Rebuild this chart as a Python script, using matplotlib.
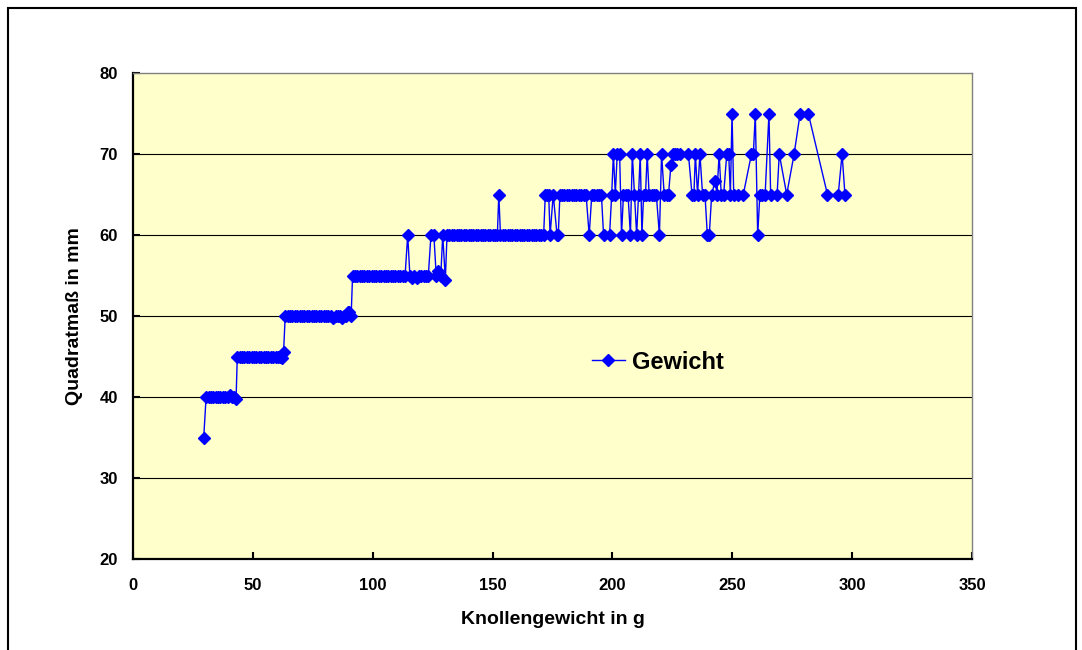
import matplotlib
matplotlib.use('Agg')
import matplotlib.pyplot as plt
from matplotlib.patches import Rectangle

# Knollengewicht (g) und Quadratmaß (mm), nach Gewicht sortiert
weight_g = [
    29.5,
    30.5, 31.5, 32.5, 33.5, 34.5, 35.5, 36.5, 37.5, 38.5, 39.5, 40.5, 41.5, 42.3, 43.0,
    43.5, 44.5, 45.5, 46.5, 47.5, 48.5, 49.5, 50.5, 51.5, 52.5, 53.5, 54.5, 55.5,
    56.5, 57.5, 58.5, 59.5, 60.5, 61.5, 62.2, 62.8,
    63.5, 64.5, 65.5, 66.5, 67.5, 68.5, 69.5, 70.5, 71.5, 72.5, 73.5, 74.5, 75.5,
    76.5, 77.5, 78.5, 79.5, 80.5, 81.5, 82.5, 83.5, 84.5, 85.5, 86.4, 87.2, 88.0,
    88.8, 89.5, 90.3, 91.0,
    91.6, 92.5, 93.5, 94.5, 95.5, 96.5, 97.5, 98.5, 99.5, 100.5, 101.5, 102.5,
    103.5, 104.5, 105.5, 106.5, 107.5, 108.5, 109.5, 110.5, 111.5, 112.5, 113.5,
    114.6, 115.5, 116.5, 117.4, 118.3, 119.2, 120.2, 121.2, 122.2, 123.2, 124.3,
    125.5, 126.5, 127.4, 128.4, 129.2, 130.3,
    131.0, 132.0, 133.0, 134.0, 135.0, 136.0, 137.0, 138.0, 139.0, 140.0, 141.0,
    142.0, 143.0, 144.0, 145.0, 146.0, 147.0, 148.0, 149.0, 150.0, 151.0, 152.0,
    152.6, 153.3, 154.3, 155.3, 156.3, 157.3, 158.3, 159.3, 160.3, 161.3, 162.3,
    163.3, 164.3, 165.3, 166.3, 167.3, 168.3, 169.3, 170.3, 171.3,
    172.0, 172.8, 173.4, 174.0, 175.3, 176.9, 177.4, 178.1, 179.0, 180.0, 181.0,
    182.0, 183.0, 184.0, 185.0, 186.0, 187.0, 188.0, 189.0, 190.3, 191.4, 192.4,
    193.4, 194.4, 195.4, 196.3, 198.8,
    199.7, 200.4, 201.2, 202.0, 203.0, 203.8, 204.6, 205.5, 206.5, 207.5, 208.3,
    209.2, 210.1, 210.9, 211.6, 212.3, 213.0, 213.8, 214.5, 215.3, 216.3, 217.3,
    218.3, 219.6, 220.5, 221.6, 222.6, 223.4, 224.4, 225.3, 226.2, 227.1, 228.2,
    231.7, 233.2, 234.0, 234.6, 235.5, 236.5, 237.6, 238.6, 239.6, 240.4, 241.4,
    242.8, 243.6, 244.5, 245.4, 246.4, 247.7, 248.5, 249.2, 249.9, 250.6, 252.5,
    254.6, 258.0, 258.8, 259.6, 260.6, 261.5, 262.6, 263.7, 265.3, 266.0, 268.7,
    269.6, 272.7, 275.8, 278.3, 281.7, 289.7, 294.2, 295.8, 297.0,
]

size_mm = [
    35,
    40, 40, 40, 40, 40, 40, 40, 40, 40, 40, 40.3, 40, 40, 39.7,
    45, 45, 45, 45, 45, 45, 45, 45, 45, 45, 45, 45, 45,
    45, 45, 45, 45, 45, 45, 44.8, 45.5,
    50, 50, 50, 50, 50, 50, 50, 50, 50, 50, 50, 50, 50,
    50, 50, 50, 50, 50, 50, 50, 49.7, 50, 50, 50, 49.7, 50,
    50, 50.5, 50.5, 50,
    55, 55, 55, 55, 55, 55, 55, 55, 55, 55, 55, 55,
    55, 55, 55, 55, 55, 55, 55, 55, 55, 55, 55,
    60, 55, 54.7, 55, 54.7, 55, 55, 55, 55, 55, 60,
    60, 55, 55.5, 55, 60, 54.5,
    60, 60, 60, 60, 60, 60, 60, 60, 60, 60, 60,
    60, 60, 60, 60, 60, 60, 60, 60, 60, 60, 60,
    65, 60, 60, 60, 60, 60, 60, 60, 60, 60, 60,
    60, 60, 60, 60, 60, 60, 60, 60, 60,
    65, 65, 65, 60, 65, 60, 60, 65, 65, 65, 65,
    65, 65, 65, 65, 65, 65, 65, 65, 60, 65, 65,
    65, 65, 65, 60, 60,
    65, 70, 65, 70, 70, 60, 65, 65, 65, 60, 70,
    65, 60, 65, 70, 60, 65, 65, 70, 65, 65, 65,
    65, 60, 70, 65, 65, 65, 68.7, 70, 70, 70, 70,
    70, 65, 65, 70, 65, 70, 65, 65, 60, 60, 65,
    66.7, 65, 70, 65, 65, 70, 70, 65, 75, 65, 65,
    65, 70, 70, 75, 60, 65, 65, 65, 75, 65, 65,
    70, 65, 70, 75, 75, 65, 65, 70, 65,
]

x_ticks = [0, 50, 100, 150, 200, 250, 300, 350]
y_ticks = [20, 30, 40, 50, 60, 70, 80]

plt.rcParams['font.family'] = ['Liberation Sans', 'DejaVu Sans']
plt.rcParams['font.weight'] = 'bold'

fig = plt.figure(figsize=(10.82, 6.5), dpi=100)
ax = fig.add_axes([133 / 1082, 91 / 650, 839 / 1082, 486 / 650])
ax.set_facecolor('#FFFFCC')

ax.plot(weight_g, size_mm, color='#0000FF', linewidth=1.0, marker='D',
        markersize=6, markerfacecolor='#0000FF', markeredgecolor='#0000FF',
        label='Gewicht', zorder=3)

ax.set_xlim(0, 350)
ax.set_ylim(20, 80)
ax.set_xticks(x_ticks)
ax.set_yticks(y_ticks)

# Gitterlinien
for v in y_ticks[1:-1]:
    ax.axhline(v, color='black', linewidth=0.8, zorder=1)

ax.spines['left'].set_linewidth(1.6)
ax.spines['bottom'].set_linewidth(1.6)
ax.spines['top'].set_color('#808080')
ax.spines['right'].set_color('#808080')
ax.spines['top'].set_linewidth(1.0)
ax.spines['right'].set_linewidth(1.0)

ax.tick_params(axis='x', direction='in', length=5, width=1.5, pad=14, labelsize=12)
ax.tick_params(axis='y', direction='in', length=5, width=1.5, pad=11, labelsize=12)
ax.tick_params(top=False, right=False)

ax.set_xlabel('Knollengewicht in g', fontsize=14, fontweight='bold')
ax.set_ylabel('Quadratmaß in mm', fontsize=14, fontweight='bold')
ax.xaxis.set_label_coords(0.5, -0.106)
ax.yaxis.set_label_coords(-0.060, 0.5)

ax.legend(loc='center left', bbox_to_anchor=(0.547, 0.405), frameon=False,
          fontsize=17, handlelength=1.4, handletextpad=0.3, borderpad=0,
          borderaxespad=0)

# Rahmen um das Diagramm
fig.patches.append(Rectangle((8 / 1082, -0.05), 1068 / 1082, 1 - 8 / 650 + 0.05,
                             transform=fig.transFigure, fill=False,
                             edgecolor='black', linewidth=1.5))

fig.savefig('out.png', dpi=100)
